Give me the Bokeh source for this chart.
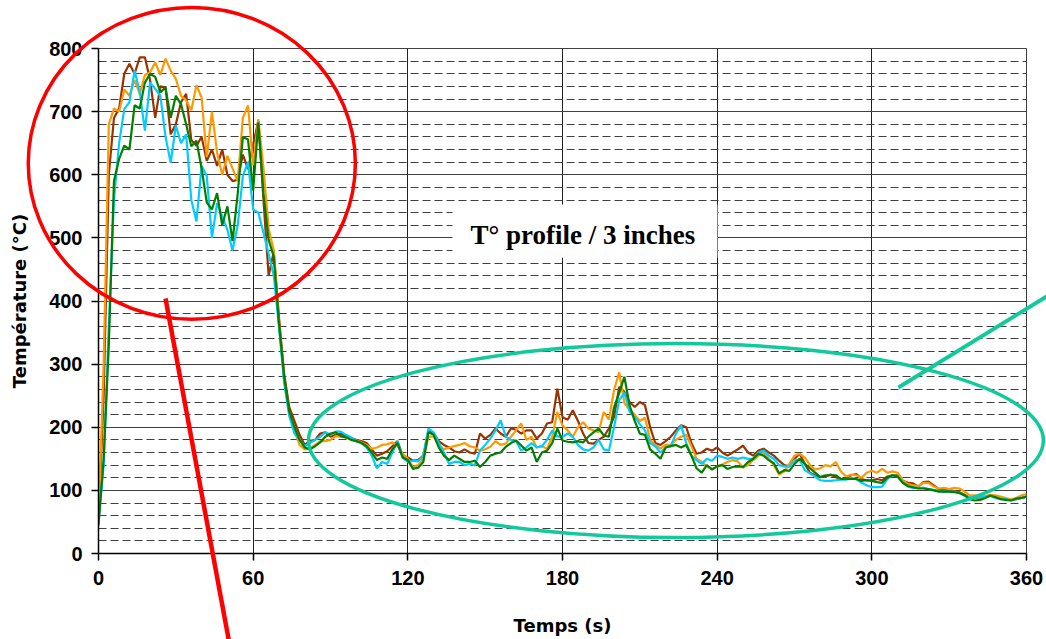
from bokeh.plotting import figure
from bokeh.layouts import column
from bokeh.models import Range1d, SingleIntervalTicker, BoxAnnotation, Label
from bokeh.embed import file_html
from bokeh.resources import INLINE

# sample times (s)
time_s = list(range(0, 361, 2))

temp_brown = [
    50, 250, 600, 690, 705, 760, 776, 760, 786, 786,
    750, 690, 740, 738, 664, 680, 715, 728, 655, 646,
    660, 622, 640, 614, 640, 600, 590, 592, 632, 609,
    648, 685, 560, 440, 478, 375, 285, 232, 210, 188,
    172, 178, 180, 190, 192, 185, 188, 190, 186, 183,
    180, 178, 175, 165, 155, 158, 162, 170, 178, 155,
    152, 147, 148, 155, 195, 190, 178, 172, 168, 162,
    160, 165, 160, 158, 190, 182, 188, 198, 190, 185,
    198, 196, 190, 195, 195, 182, 190, 206, 208, 261,
    216, 212, 227, 210, 190, 175, 174, 180, 185, 198,
    216, 264, 256, 240, 232, 240, 235, 200, 175, 172,
    178, 185, 195, 203, 200, 175, 158, 160, 166, 163,
    168, 160, 155, 160, 165, 171, 160, 155, 163, 166,
    160, 155, 147, 140, 138, 150, 158, 142, 128, 124,
    121, 122, 125, 121, 118, 118, 124, 126, 118, 116,
    116, 118, 116, 122, 124, 124, 115, 112, 111, 106,
    113, 114, 108, 102, 100, 101, 99, 97, 93, 88,
    88, 89, 90, 92, 90, 87, 86, 85, 86, 88,
    90]

temp_orange = [
    50, 300, 680, 705, 700, 735, 725, 750, 728, 758,
    762, 778, 758, 784, 765, 752, 725, 718, 702, 742,
    722, 628, 700, 635, 600, 630, 610, 590, 690, 710,
    615, 688, 610, 515, 480, 365, 275, 222, 195, 172,
    165, 166, 172, 178, 178, 180, 186, 185, 184, 180,
    179, 176, 172, 166, 168, 172, 173, 176, 170, 158,
    150, 137, 140, 150, 185, 185, 172, 165, 168, 170,
    172, 175, 170, 168, 163, 165, 169, 178, 172, 174,
    185, 195, 206, 180, 185, 168, 170, 166, 185, 224,
    203, 195, 185, 200, 208, 198, 195, 192, 224, 212,
    259, 287, 238, 228, 220, 210, 215, 180, 172, 166,
    172, 172, 180, 185, 188, 170, 150, 145, 138, 134,
    138, 141, 145, 148, 146, 136, 140, 148, 155, 160,
    150, 140, 125, 130, 142, 155, 158, 152, 140, 133,
    135, 140, 138, 145, 130, 122, 125, 124, 120, 128,
    131, 128, 134, 128, 130, 128, 116, 110, 108, 107,
    112, 112, 106, 103, 104, 102, 104, 103, 98, 92,
    92, 90, 91, 93, 92, 90, 88, 86, 88, 92,
    94]

temp_cyan = [
    50, 140, 360, 560, 650, 704, 715, 765, 731, 670,
    746, 736, 725, 660, 619, 678, 650, 664, 560, 526,
    614, 598, 500, 555, 534, 513, 480, 520, 598, 620,
    545, 540, 508, 475, 440, 360, 272, 218, 190, 180,
    170, 175, 180, 185, 192, 188, 193, 193, 188, 184,
    178, 175, 168, 155, 135, 145, 142, 160, 178, 152,
    145, 147, 146, 155, 198, 192, 175, 160, 142, 145,
    145, 140, 142, 140, 163, 172, 182, 195, 211, 185,
    180, 178, 163, 168, 175, 168, 170, 180, 195, 185,
    185, 190, 185, 172, 165, 163, 168, 180, 165, 163,
    200, 243, 255, 225, 216, 205, 195, 175, 170, 160,
    168, 170, 190, 203, 175, 155, 148, 142, 150, 147,
    155, 153, 150, 152, 150, 152, 150, 150, 160, 163,
    155, 150, 140, 138, 138, 148, 148, 132, 127, 122,
    116, 115, 115, 116, 117, 117, 120, 118, 112, 108,
    105, 105, 106, 118, 124, 122, 112, 106, 104, 104,
    104, 102, 101, 99, 98, 98, 98, 96, 92, 88,
    88, 90, 90, 91, 88, 86, 86, 84, 86, 88,
    90]

temp_green = [
    45, 150, 330, 590, 625, 646, 640, 710, 705, 746,
    760, 755, 731, 738, 690, 725, 712, 680, 645, 654,
    610, 556, 545, 571, 520, 550, 495, 570, 660, 656,
    575, 683, 570, 497, 470, 365, 280, 225, 200, 180,
    168, 165, 170, 176, 185, 190, 192, 186, 184, 180,
    178, 175, 170, 160, 148, 152, 150, 165, 175, 152,
    148, 134, 136, 145, 192, 188, 168, 155, 148, 155,
    150, 145, 145, 147, 137, 145, 155, 158, 160, 169,
    175, 179, 171, 163, 168, 145, 160, 163, 175, 198,
    179, 177, 176, 178, 176, 185, 192, 198, 187, 185,
    232, 254, 280, 235, 210, 190, 188, 165, 158, 150,
    168, 170, 172, 168, 172, 155, 135, 128, 140, 133,
    138, 140, 134, 137, 138, 137, 145, 150, 158, 155,
    148, 143, 127, 132, 131, 142, 150, 142, 135, 128,
    121, 124, 124, 124, 118, 118, 118, 118, 115, 116,
    115, 113, 112, 120, 124, 122, 112, 107, 105, 103,
    103, 102, 100, 98, 98, 98, 97, 96, 92, 86,
    84, 85, 88, 92, 89, 86, 85, 84, 87, 88,
    90]

series = [
    ("#993300", temp_brown),
    ("#FF9900", temp_orange),
    ("#00CCFF", temp_cyan),
    ("#008000", temp_green),
]

x_label = "Temps (s)"
y_label = "Température (°C)"
note_text = "T° profile / 3 inches"

W, H = 1046, 639
BL, BR, BT, BB = 98, 20, 48, 86

p = figure(width=W, height=H, output_backend="svg", toolbar_location=None,
           x_range=Range1d(0, 360), y_range=Range1d(0, 800),
           min_border_left=BL, min_border_right=BR, min_border_top=BT, min_border_bottom=BB,
           background_fill_color="white", border_fill_color="white")
p.frame_align = False
p.outline_line_color = "#404040"
p.outline_line_width = 1

p.xaxis.ticker = SingleIntervalTicker(interval=60, num_minor_ticks=0)
p.yaxis.ticker = SingleIntervalTicker(interval=100, num_minor_ticks=5)

for ax in (p.xaxis, p.yaxis):
    ax.axis_line_color = "black"
    ax.axis_line_width = 1.5
    ax.major_tick_line_color = "black"
    ax.major_tick_line_width = 1.5
    ax.major_tick_out = 7
    ax.major_tick_in = 0
    ax.minor_tick_line_color = None
    ax.major_label_text_font = "Liberation Sans"
    ax.major_label_text_font_style = "bold"
    ax.major_label_text_font_size = "20px"
    ax.major_label_text_color = "black"
    ax.axis_label_text_font = "DejaVu Sans"
    ax.axis_label_text_font_style = "bold"
    ax.axis_label_text_font_size = "18px"
    ax.axis_label_text_color = "black"

p.xaxis.axis_label = x_label
p.yaxis.axis_label = y_label
p.xaxis.major_label_standoff = 10
p.yaxis.major_label_standoff = 9
p.xaxis.axis_label_standoff = 27
p.yaxis.axis_label_standoff = 16

p.xgrid.grid_line_color = "#202020"
p.xgrid.grid_line_width = 1
p.ygrid.grid_line_color = "#404040"
p.ygrid.grid_line_width = 1
p.ygrid.minor_grid_line_color = "#404040"
p.ygrid.minor_grid_line_dash = "8 4"
p.ygrid.minor_grid_line_width = 1

for color, vals in series:
    p.line(time_s, vals, line_color=color, line_width=2.2)

# white box behind the note
p.add_layout(BoxAnnotation(left=137.3, right=240.1, bottom=468.5, top=553,
                           fill_color="white", fill_alpha=1.0, line_color=None))
p.add_layout(Label(x=187.9, y=505, text=note_text, text_font="Liberation Serif",
                   text_font_style="bold", text_font_size="27px", text_color="black",
                   text_align="center", text_baseline="middle"))

# transparent overlay (same data scale, extended to whole canvas) for the hand-drawn marks
px_per_s = (W - BL - BR) / 360.0
px_per_deg = (H - BT - BB) / 800.0
ov = figure(width=W, height=H, output_backend="svg", toolbar_location=None,
            x_axis_location=None, y_axis_location=None,
            x_range=Range1d(-BL / px_per_s, 360 + BR / px_per_s),
            y_range=Range1d(-BB / px_per_deg, 800 + BT / px_per_deg),
            min_border=0, background_fill_color=None, border_fill_color=None)
ov.frame_align = False
ov.outline_line_color = None
ov.grid.visible = False
ov.margin = (-H, 0, 0, 0)

# red circle around the early peak + pointer line
ov.ellipse(x=[36.2], y=[618.0], width=[126.9], height=[494.0],
           fill_color=None, line_color="#FF0000", line_width=3.5)
ov.line(x=[26.0, 52.0], y=[404.0, -169.5], line_color="#FF0000", line_width=4.5)
# green ellipse around the cooling plateau + pointer line
ov.ellipse(x=[224.0], y=[179.0], width=[285.1], height=[307.3],
           fill_color=None, line_color="#12C99B", line_width=3.5)
ov.line(x=[310.3, 373.2], y=[263.0, 420.8], line_color="#12C99B", line_width=4)

layout = column(p, ov, spacing=0)
open("out.html", "w").write(file_html(layout, INLINE))
